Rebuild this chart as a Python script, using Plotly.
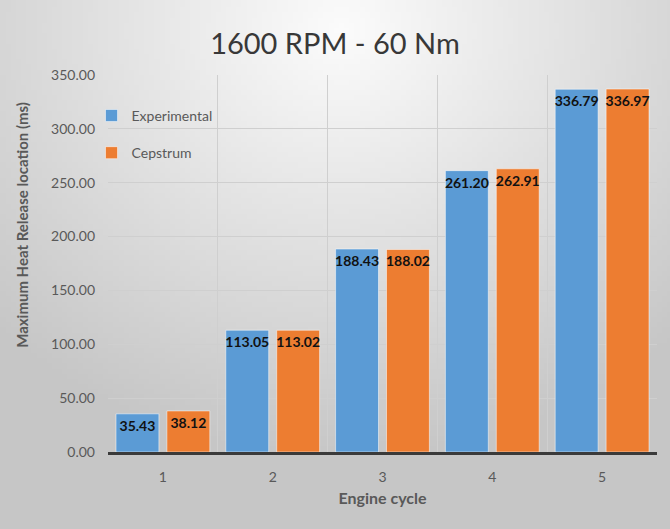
import base64, struct, zlib
import plotly.graph_objects as go

# ---- data ----
cycles = [1, 2, 3, 4, 5]
cycle_labels = ["1", "2", "3", "4", "5"]
experimental = [35.43, 113.05, 188.43, 261.20, 336.79]
cepstrum = [38.12, 113.02, 188.02, 262.91, 336.97]
y_ticks = [0, 50, 100, 150, 200, 250, 300, 350]

# ---- background gradient image (pure python PNG) ----
def make_png(w, h):
    rows = []
    for j in range(h):
        row = bytearray([0])
        for i in range(w):
            dx = (i / (w - 1) - 0.5) * 1.0
            dy = (j / (h - 1) - 0.05) * 0.9
            d = (dx * dx + dy * dy) ** 0.5
            v = int(max(198, min(252, 252 - d * 75)))
            row += bytes([v, v, v])
        rows.append(bytes(row))
    raw = b"".join(rows)
    def chunk(t, data):
        c = struct.pack(">I", len(data)) + t + data
        return c + struct.pack(">I", zlib.crc32(t + data) & 0xffffffff)
    png = b"\x89PNG\r\n\x1a\n"
    png += chunk(b"IHDR", struct.pack(">IIBBBBB", w, h, 8, 2, 0, 0, 0))
    png += chunk(b"IDAT", zlib.compress(raw, 9))
    png += chunk(b"IEND", b"")
    return "data:image/png;base64," + base64.b64encode(png).decode()

bg = make_png(134, 106)

FONT = "Lato"
GREY = "#595959"

fig = go.Figure()
for name, vals, color, grp in [("Experimental", experimental, "#5B9BD5", "a"),
                               ("Cepstrum", cepstrum, "#ED7D31", "b")]:
    fig.add_trace(go.Bar(
        x=cycles, y=vals, name=name,
        marker=dict(color=color, line=dict(color="rgba(255,255,255,0.5)", width=1)),
        text=[f"{v:.2f}" for v in vals], textposition="inside", textangle=0,
        insidetextanchor="end", constraintext="none",
        textfont=dict(family=FONT, size=14, color="#111111", weight="bold"),
        legendgroup=grp,
    ))

fig.update_layout(
    width=670, height=529,
    margin=dict(l=108, r=13, t=75, b=77),
    paper_bgcolor="#e4e4e4",
    plot_bgcolor="rgba(0,0,0,0)",
    images=[dict(source=bg, xref="paper", yref="paper", x=-0.2, y=1.2,
                 sizex=1.25, sizey=1.45, xanchor="left", yanchor="top",
                 sizing="stretch", layer="below")],
    barmode="group", bargap=0.073, bargroupgap=0.157,
    font=dict(family=FONT, color=GREY),
    title=dict(text="1600 RPM - 60 Nm", x=0.5, xref="container", xanchor="center",
               y=0.917, yanchor="middle",
               font=dict(family=FONT, size=29, color="#383838")),
    legend=dict(x=-0.03, y=0.934, xanchor="left", yanchor="top",
                bgcolor="rgba(0,0,0,0)", font=dict(size=14, color=GREY),
                tracegroupgap=16, itemwidth=30),
    xaxis=dict(
        range=[0.5, 5.5], tickmode="array", tickvals=cycles, ticktext=cycle_labels,
        showgrid=False, zeroline=False,
        showline=True, linecolor="#3a3a3a", linewidth=3,
        tickfont=dict(size=14, color=GREY), ticks="", ticklabelstandoff=10,
        minor=dict(tickmode="linear", tick0=0.5, dtick=1, showgrid=True,
                   gridcolor="#cfcfcf", gridwidth=1, ticks=""),
        title=dict(text="Engine cycle", font=dict(size=16, color=GREY, weight="bold"),
                   standoff=10),
    ),
    yaxis=dict(
        range=[0, 350], tickmode="array", tickvals=y_ticks, tickformat=".2f",
        showgrid=True, gridcolor="#cfcfcf", gridwidth=1, zeroline=False,
        tickfont=dict(size=14, color=GREY), ticks="", ticklabelstandoff=12,
    ),
    annotations=[dict(text="Maximum Heat Release location (ms)", textangle=-90,
                      xref="paper", yref="paper", x=-0.157, y=0.602,
                      xanchor="center", yanchor="middle", showarrow=False,
                      font=dict(size=15, color=GREY, weight="bold"))],
)

fig.write_html("out.html", config={"displayModeBar": False},
               post_script="document.body.style.margin='0px';")
